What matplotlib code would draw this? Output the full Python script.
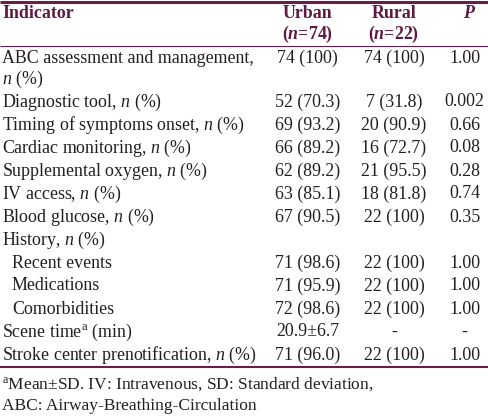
# Table: prehospital stroke care indicators, urban vs rural
import matplotlib
matplotlib.use("Agg")
import matplotlib.pyplot as plt

plt.rcParams['font.family'] = ['Liberation Serif', 'DejaVu Serif']
plt.rcParams['mathtext.fontset'] = 'custom'
plt.rcParams['mathtext.rm'] = 'Liberation Serif'
plt.rcParams['mathtext.it'] = 'Liberation Serif:italic'
plt.rcParams['mathtext.bf'] = 'Liberation Serif:bold'
plt.rcParams['mathtext.bfit'] = 'Liberation Serif:bold:italic'

# table content
headers = ["Indicator", "Urban\n($\\mathbfit{n}$=74)", "Rural\n($\\mathbfit{n}$=22)", "P"]
labels = ["ABC assessment and management,\n$n$ (%)",
          "Diagnostic tool, $n$ (%)",
          "Timing of symptoms onset, $n$ (%)",
          "Cardiac monitoring, $n$ (%)",
          "Supplemental oxygen, $n$ (%)",
          "IV access, $n$ (%)",
          "Blood glucose, $n$ (%)",
          "History, $n$ (%)",
          "Recent events",
          "Medications",
          "Comorbidities",
          "Scene time$^{\\mathrm{a}}$ (min)",
          "Stroke center prenotification, $n$ (%)"]
indent = [0, 0, 0, 0, 0, 0, 0, 0, 1, 1, 1, 0, 0]
urban = ["74 (100)", "52 (70.3)", "69 (93.2)", "66 (89.2)", "62 (89.2)", "63 (85.1)",
         "67 (90.5)", "", "71 (98.6)", "71 (95.9)", "72 (98.6)", "20.9±6.7", "71 (96.0)"]
rural = ["74 (100)", "7 (31.8)", "20 (90.9)", "16 (72.7)", "21 (95.5)", "18 (81.8)",
         "22 (100)", "", "22 (100)", "22 (100)", "22 (100)", "-", "22 (100)"]
pvals = ["1.00", "0.002", "0.66", "0.08", "0.28", "0.74",
         "0.35", "", "1.00", "1.00", "1.00", "-", "1.00"]
footnotes = ["$^{\\mathrm{a}}$Mean±SD. IV: Intravenous, SD: Standard deviation,",
             "ABC: Airway-Breathing-Circulation"]

# colours / sizes
rule_col = '#6b1d4a'
head_col = '#5f1a42'
text_col = '#231f20'
fs = 12.9

fig = plt.figure(figsize=(4.88, 4.20), dpi=100)
ax = fig.add_axes([0, 0, 1, 1])
ax.set_xlim(0, 488)
ax.set_ylim(420, 0)
ax.axis('off')

# column x positions (left for first, centres for others)
x_ind = 2
x_cols = [307.5, 394, 464.5]
x_p_head = 468
line_h = 20.5
row_h = 23.0

# rules
ax.plot([0, 488], [1.5, 1.5], color=rule_col, lw=2.2, solid_capstyle='butt')
ax.plot([0, 488], [46, 46], color=rule_col, lw=0.8, solid_capstyle='butt')
ax.plot([0, 488], [367, 367], color=rule_col, lw=1.5, solid_capstyle='butt')

# header
hb = 18
ax.text(x_ind, hb, headers[0], fontsize=fs, fontweight='bold', color=head_col, va='baseline')
for x, h in zip(x_cols[:2], headers[1:3]):
    for k, part in enumerate(h.split("\n")):
        ax.text(x, hb + k * line_h, part, fontsize=fs, fontweight='bold', color=head_col,
                ha='center', va='baseline')
ax.text(x_p_head, hb, headers[3], fontsize=fs, fontweight='bold', style='italic',
        color=head_col, ha='center', va='baseline')

# body
y = 63
for lab, ind, u, r, p in zip(labels, indent, urban, rural, pvals):
    parts = lab.split("\n")
    for k, part in enumerate(parts):
        ax.text(x_ind + ind * 10, y + k * line_h, part, fontsize=fs, color=text_col, va='baseline')
    for x, v in zip(x_cols, [u, r, p]):
        ax.text(x, y, v, fontsize=fs, color=text_col, ha='center', va='baseline')
    y += row_h + (len(parts) - 1) * line_h

# footnotes
fy = 389
for k, f in enumerate(footnotes):
    ax.text(x_ind, fy + k * 21, f, fontsize=fs * 0.97, color=text_col, va='baseline')

fig.savefig("out.png", dpi=100)
